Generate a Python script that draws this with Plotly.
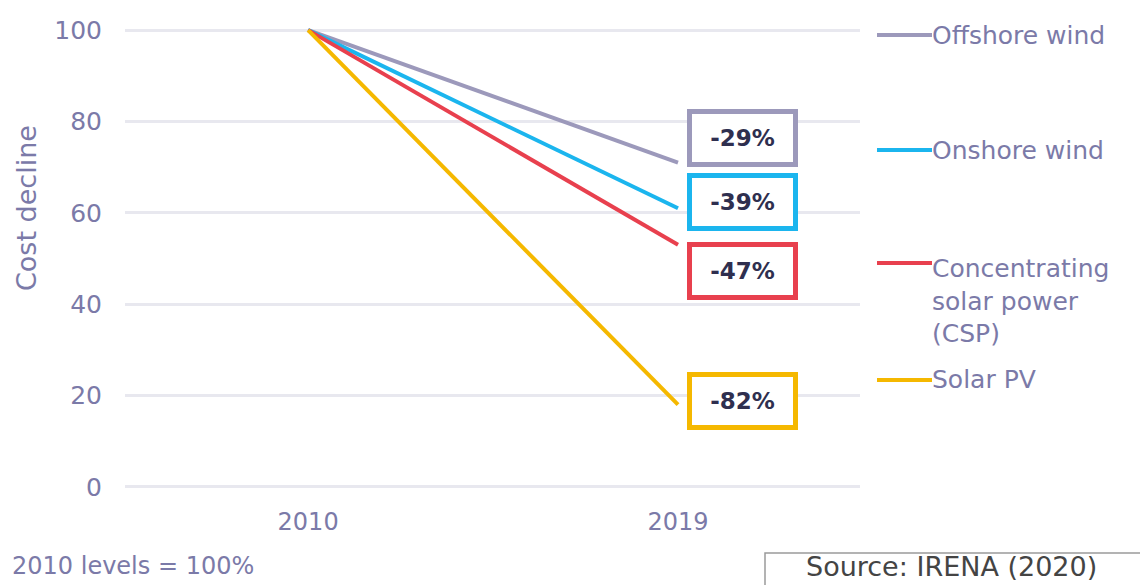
import plotly.graph_objects as go

years = ["2010", "2019"]
series_names = ["Offshore wind", "Onshore wind", "Concentrating<br>solar power<br>(CSP)", "Solar PV"]
values_2010 = [100, 100, 100, 100]
values_2019 = [71, 61, 53, 18]
decline_labels = ["-29%", "-39%", "-47%", "-82%"]
colors = ["#9c99bb", "#1bb5ee", "#e8404e", "#f5b800"]

W, H = 1140, 585
L, R, T, B = 125, 280, 21, 89
pw, ph = W - L - R, H - T - B

def px_x(px):
    return (px - L) / pw

def px_y(py):
    return (H - B - py) / ph

TXT = "#7b7aa8"
FONT = "DejaVu Sans"

fig = go.Figure()
for name, a, b, c in zip(series_names, values_2010, values_2019, colors):
    fig.add_trace(go.Scatter(x=[0, 1], y=[a, b], mode="lines",
                             line=dict(color=c, width=4), name=name,
                             showlegend=False, hoverinfo="skip"))

# label boxes
box_y = [138, 202, 271, 401]
for lab, c, by in zip(decline_labels, colors, box_y):
    fig.add_annotation(x=px_x(742), y=px_y(by), xref="paper", yref="paper",
                       xanchor="center", yanchor="middle",
                       text="<b>" + lab + "</b>", showarrow=False,
                       font=dict(size=23, color="#2f2f4f", family=FONT),
                       bordercolor=c, borderwidth=5, borderpad=9,
                       bgcolor="white", width=83, height=30)

# legend
leg_y = [35, 150, 263, 380]
text_y = [35, 150, 301, 379]
for name, c, ly, ty in zip(series_names, colors, leg_y, text_y):
    fig.add_shape(type="line", xref="paper", yref="paper",
                  x0=px_x(877), x1=px_x(932), y0=px_y(ly), y1=px_y(ly),
                  line=dict(color=c, width=4))
    fig.add_annotation(x=px_x(930), y=px_y(ty), xref="paper", yref="paper",
                       xanchor="left", yanchor="middle",
                       text=name, showarrow=False, align="left",
                       font=dict(size=25, color=TXT, family=FONT))

fig.add_annotation(x=px_x(27), y=px_y(208), xref="paper", yref="paper",
                   xanchor="center", yanchor="middle",
                   text="Cost decline", showarrow=False, textangle=-90,
                   font=dict(size=27, color=TXT, family=FONT))

fig.add_annotation(x=px_x(10), y=px_y(566), xref="paper", yref="paper",
                   xanchor="left", yanchor="middle",
                   text="2010 levels = 100%", showarrow=False,
                   font=dict(size=24, color=TXT, family=FONT))

fig.add_shape(type="rect", xref="paper", yref="paper",
              x0=px_x(765), x1=px_x(1150), y0=px_y(553), y1=px_y(600),
              line=dict(color="#9a9a9a", width=1.5), fillcolor="white")
fig.add_annotation(x=px_x(951), y=px_y(566), xref="paper", yref="paper",
                   xanchor="center", yanchor="middle",
                   text="Source: IRENA (2020)", showarrow=False,
                   font=dict(size=27, color="#444444", family=FONT))

fig.update_layout(
    width=W, height=H, margin=dict(l=L, r=R, t=T, b=B),
    paper_bgcolor="white", plot_bgcolor="white",
    font=dict(family=FONT, color=TXT),
    xaxis=dict(range=[-0.495, 1.492], tickvals=[0, 1], ticktext=years,
               showgrid=False, zeroline=False, showline=False, automargin=False,
               tickfont=dict(size=24, color=TXT), ticks="", ticklabelstandoff=9),
    yaxis=dict(range=[-2, 102], tickvals=[0, 20, 40, 60, 80, 100],
               showgrid=True, gridcolor="#e8e8ef", gridwidth=3, automargin=False,
               zeroline=False, showline=False, ticks="",
               tickfont=dict(size=25, color=TXT), ticklabelstandoff=22),
)

fig.write_html("out.html", config={"displayModeBar": False},
               post_script="document.body.style.margin='0';document.body.style.overflow='hidden';")
